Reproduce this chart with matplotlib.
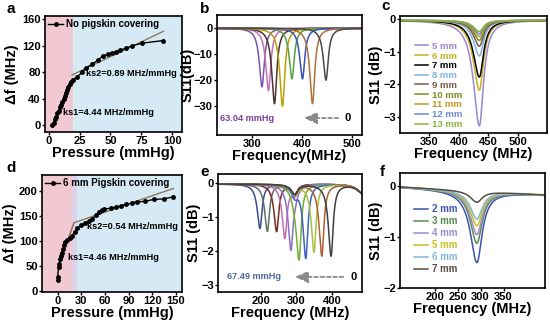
import numpy as np
import matplotlib
matplotlib.use("Agg")
from matplotlib import pyplot as plt

plt.rcParams['font.family'] = ['Liberation Sans', 'DejaVu Sans']
plt.rcParams['font.weight'] = 'bold'
plt.rcParams['axes.labelweight'] = 'bold'
plt.rcParams['axes.linewidth'] = 1.2
plt.rcParams['xtick.major.width'] = 1.0
plt.rcParams['ytick.major.width'] = 1.0
plt.rcParams['xtick.major.size'] = 2
plt.rcParams['ytick.major.size'] = 2
plt.rcParams['xtick.major.pad'] = 1
plt.rcParams['ytick.major.pad'] = 1

# ---- panel a: no pigskin
a_pressure = [3, 4, 5, 6, 7, 8, 9, 10, 11, 12, 13, 14, 15, 16, 17, 18, 19.6,
              23, 27, 30.5, 35, 39.6, 43.6, 47.9, 51.6, 54.8, 58, 62.8, 67.6, 75.6, 93]
a_shift = [0, 4, 9, 13, 18, 22, 27, 31, 36, 40, 44, 49, 53, 58, 62, 66, 69,
           73, 80, 87, 92, 98, 104.5, 107, 108.6, 111, 113.6, 116.6, 120, 124, 128]
a_fit1_x = [3, 19]
a_fit1_y = [-1, 70]
a_fit2_x = [19, 93]
a_fit2_y = [76, 142]

# ---- panel d: 6 mm pigskin
d_pressure = [0, 0, 1, 2, 3, 4, 5, 6.5, 7.7, 9.3, 12, 15, 18, 22, 25, 29.5, 34.6,
              40, 44, 48.6, 52, 55.8, 59, 67.5, 74, 80, 87, 94, 101, 111, 122, 135, 147]
d_shift = [21, 28, 47, 54, 63, 69, 76, 84, 91, 97, 101, 105, 110, 118, 125, 131, 136,
           139, 144, 151, 157, 162, 164, 165, 168, 170, 173, 175, 178, 179, 183, 184, 188]
d_fit1_x = [13, 20.6]
d_fit1_y = [102, 136]
d_fit2_x = [20.6, 147]
d_fit2_y = [136, 205]

# ---- panel b: S11 dips vs pressure (no pigskin)
b_center = [320, 333, 345, 361, 380, 401, 421, 448]
b_depth = [-22.5, -24, -29, -30, -19.5, -19.5, -29, -20]
b_colors = ['#7a55a8', '#c870b4', '#4a3232', '#b8a200', '#5aa040', '#3a50c0', '#b0703a', '#4a4a4a']

# ---- panel c: S11 vs thickness (no pressure)
c_labels = ['5 mm', '6 mm', '7 mm', '8 mm', '9 mm', '10 mm', '11 mm', '12 mm', '13 mm']
c_depth = [-3.25, -2.15, -1.75, -1.1, -0.8, -0.62, -0.5, -0.42, -0.35]
c_center = 435
c_colors = ['#9a86d0', '#c8b020', '#000000', '#7fb2dc', '#7a5a48', '#7f8a20', '#c09a20', '#6a8cd0', '#8cb43c']

# ---- panel e: S11 dips vs pressure (6 mm pigskin)
e_center = [198, 219, 245, 268, 285, 308, 327, 350, 372, 398]
e_depth = [-1.3, -1.38, -1.38, -1.55, -1.78, -2.1, -2.15, -1.98, -2.1, -2.1]
e_colors = ['#3a4f8a', '#5f6f66', '#7a2a20', '#c070b0', '#8a70c0', '#70b030',
            '#4060c8', '#a8c040', '#b06030', '#404040']

# ---- panel f: S11 vs thickness (pigskin)
f_labels = ['2 mm', '3 mm', '4 mm', '5 mm', '6 mm', '7 mm']
f_depth = [-1.4, -1.02, -0.85, -0.68, -0.55, -0.22]
f_center = 292
f_colors = ['#3a55b0', '#5a8a50', '#9a8ad0', '#c8c020', '#80b8d8', '#5a4a40']

W, H = 550, 323
fig = plt.figure(figsize=(5.5, 3.23), dpi=100)


def box(l, t, r, b):
    return fig.add_axes([l / W, 1 - b / H, (r - l) / W, (b - t) / H])


def dip(f, f0, depth, gl, gr):
    g = np.where(f < f0, gl, gr)
    return depth * g ** 2 / ((f - f0) ** 2 + g ** 2)


def letter(x, y, s):
    fig.text(x / W, 1 - y / H, s, fontsize=11, fontweight='bold', ha='left', va='center')


tick_fs = 8
lab_fs = 10.5
note_fs = 6.6

# a
ax = box(45, 16, 182, 132)
ax.set_xlim(-3, 108)
ax.set_ylim(-10, 165)
ax.axvspan(-3, 20, color='#f2c8d2', lw=0)
ax.axvspan(20, 108, color='#d6eaf5', lw=0)
ax.plot(a_fit1_x, a_fit1_y, color='#a06040', lw=1)
ax.plot(a_fit2_x, a_fit2_y, color='#8c7b5a', lw=1)
ax.plot(a_pressure, a_shift, '-o', color='black', ms=2.5, lw=1, label='No pigskin covering')
ax.set_xticks([0, 25, 50, 75, 100])
ax.set_yticks([0, 40, 80, 120, 160])
ax.tick_params(labelsize=tick_fs)
ax.set_xlabel('Pressure (mmHg)', fontsize=lab_fs, labelpad=0)
ax.set_ylabel('Δf (MHz)', fontsize=lab_fs)
ax.yaxis.set_label_coords(-0.19, 0.5)
ax.text(30, 78, 'ks2=0.89 MHz/mmHg', fontsize=note_fs, va='center')
ax.text(11.5, 20, 'ks1=4.44 MHz/mmHg', fontsize=note_fs, va='center')
ax.legend(loc='upper left', frameon=False, fontsize=7, handlelength=1.6,
          handletextpad=0.3, borderaxespad=0.1, borderpad=0.2)

# d
ax = box(42, 175, 182, 292)
ax.set_xlim(-20, 158)
ax.set_ylim(-3, 232)
ax.axvspan(-20, 18, color='#f2c8d2', lw=0)
ax.axvspan(18, 25, color='#dcd2ea', lw=0)
ax.axvspan(25, 158, color='#d6eaf5', lw=0)
ax.plot(d_fit1_x, d_fit1_y, color='#a06040', lw=1)
ax.plot(d_fit2_x, d_fit2_y, color='#8c7b5a', lw=1)
ax.plot(d_pressure, d_shift, '-o', color='black', ms=2.5, lw=1, label='6 mm Pigskin covering')
ax.set_xticks([0, 30, 60, 90, 120, 150])
ax.set_yticks([0, 50, 100, 150, 200])
ax.tick_params(labelsize=tick_fs)
ax.set_xlabel('Pressure (mmHg)', fontsize=lab_fs, labelpad=0)
ax.set_ylabel('Δf (MHz)', fontsize=lab_fs)
ax.yaxis.set_label_coords(-0.182, 0.5)
ax.text(37, 128, 'ks2=0.54 MHz/mmHg', fontsize=note_fs, va='center')
ax.text(12.5, 66, 'ks1=4.46 MHz/mmHg', fontsize=note_fs, va='center')
ax.legend(loc='upper left', frameon=False, fontsize=7, handlelength=1.6,
          handletextpad=0.3, borderaxespad=0.1, borderpad=0.2)

# b
ax = box(217, 15, 362, 135)
fb = np.linspace(230, 520, 800)
ax.plot(fb, np.zeros_like(fb) - 0.2, color='#8a6ab8', lw=1.2)
for c0, dd, col in zip(b_center, b_depth, b_colors):
    ax.plot(fb, dip(fb, c0, dd, 6.5, 5.5), color=col, lw=1.1)
ax.set_xlim(230, 520)
ax.set_ylim(-41, 5)
ax.set_xticks([300, 400, 500])
ax.set_yticks([0, -10, -20, -30])
ax.tick_params(labelsize=tick_fs)
ax.set_xlabel('Frequency(MHz)', fontsize=lab_fs, labelpad=0)
ax.set_ylabel('S11(dB)', fontsize=lab_fs)
ax.yaxis.set_label_coords(-0.152, 0.5)
ax.text(236, -34.5, '63.04 mmHg', color='#7b3f98', fontsize=note_fs, va='center')
ax.annotate('', xy=(398, -34.5), xytext=(478, -34.5),
            arrowprops=dict(arrowstyle='-|>,head_length=0.8,head_width=0.35', color='#8a8a8a',
                            lw=1.3, ls=(0, (2, 1.5))))
ax.text(485, -34.5, '0', fontsize=8, va='center')

# c
ax = box(400, 16, 547, 133)
fc = np.linspace(300, 550, 800)
for dd, col, lab in zip(c_depth, c_colors, c_labels):
    ax.plot(fc, dip(fc, c_center, dd, 12, 8.5) - 0.03, color=col, lw=1.1, label=lab)
ax.set_xlim(300, 550)
ax.set_ylim(-3.5, 0.1)
ax.set_xticks([350, 400, 450, 500])
ax.set_yticks([0, -1, -2, -3])
ax.tick_params(labelsize=tick_fs)
ax.set_xlabel('Frequency (MHz)', fontsize=lab_fs, labelpad=0)
ax.set_ylabel('S11 (dB)', fontsize=lab_fs)
ax.yaxis.set_label_coords(-0.116, 0.5)
ax.legend(loc='upper left', bbox_to_anchor=(0.07, 0.82), frameon=False, fontsize=6.8,
          handlelength=1.4, handletextpad=0.4, labelspacing=0.08, borderpad=0,
          labelcolor='linecolor')

# e
ax = box(218, 174, 362, 292)
fe = np.linspace(80, 485, 900)
for c0, dd, col in zip(e_center, e_depth, e_colors):
    s = dip(fe, c0, dd, 9, 7) + dip(fe, 296, -0.3, 12, 10) - 0.04 + dip(fe, 490, -0.3, 20, 20)
    ax.plot(fe, s, color=col, lw=1.1)
ax.set_xlim(80, 485)
ax.set_ylim(-3.2, 0.25)
ax.set_xticks([200, 300, 400])
ax.set_yticks([0, -1, -2, -3])
ax.tick_params(labelsize=tick_fs)
ax.set_xlabel('Frequency (MHz)', fontsize=lab_fs, labelpad=0)
ax.set_ylabel('S11 (dB)', fontsize=lab_fs)
ax.yaxis.set_label_coords(-0.118, 0.5)
ax.text(104, -2.76, '67.49 mmHg', color='#4a6a9a', fontsize=note_fs, va='center')
ax.annotate('', xy=(288, -2.76), xytext=(440, -2.76),
            arrowprops=dict(arrowstyle='-|>,head_length=0.8,head_width=0.35', color='#8a8a8a',
                            lw=1.3, ls=(0, (2, 1.5))))
ax.text(452, -2.76, '0', fontsize=8, va='center')

# f
ax = box(400, 173, 545, 288)
ff = np.linspace(125, 440, 800)
for dd, col, lab in zip(f_depth, f_colors, f_labels):
    base = -0.02 - 0.0005 * (ff - 125)
    ax.plot(ff, dip(ff, f_center, dd, 17, 14) + base, color=col, lw=1.1, label=lab)
ax.set_xlim(125, 440)
ax.set_ylim(-2, 0.25)
ax.set_xticks([200, 250, 300, 350])
ax.set_yticks([0, -1, -2])
ax.tick_params(labelsize=tick_fs)
ax.set_xlabel('Frequency (MHz)', fontsize=lab_fs, labelpad=0)
ax.set_ylabel('S11 (dB)', fontsize=lab_fs)
ax.yaxis.set_label_coords(-0.117, 0.5)
ax.legend(loc='upper left', bbox_to_anchor=(0.06, 0.77), frameon=False, fontsize=7,
          handlelength=1.5, handletextpad=0.4, labelspacing=0.2, borderpad=0,
          labelcolor='linecolor')

letter(6, 9, 'a')
letter(200, 9, 'b')
letter(381, 6, 'c')
letter(6, 168, 'd')
letter(200, 172, 'e')
letter(380, 172, 'f')

fig.savefig('out.png', dpi=100)
